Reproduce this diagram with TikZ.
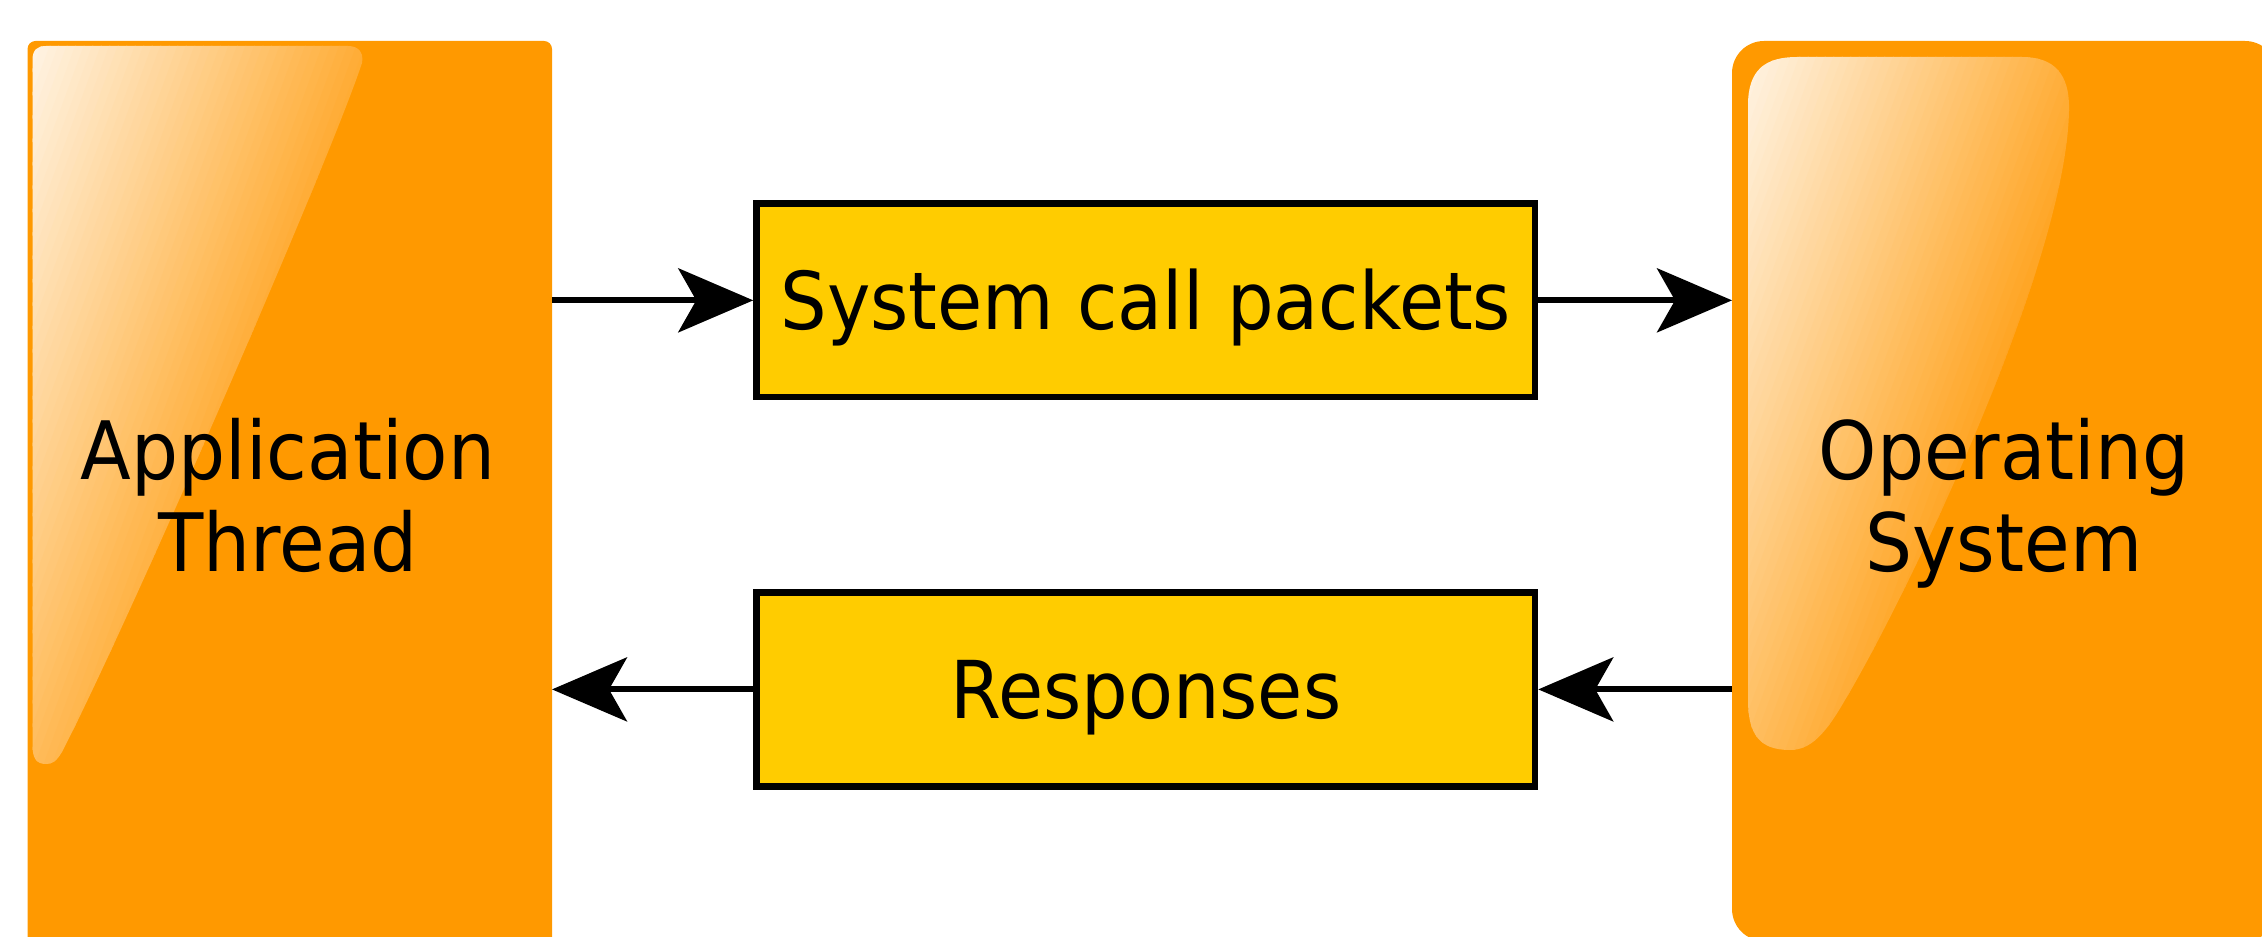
\documentclass[tikz,border=0pt]{standalone}
\usepackage{fontspec}
\setmainfont{DejaVu Sans}[FakeStretch=0.92]
\usetikzlibrary{arrows.meta}
\definecolor{blockorange}{HTML}{FF9900}
\definecolor{pktyellow}{HTML}{FFCC00}
\definecolor{glosslight}{HTML}{FFF3E2}
\definecolor{glossdark}{HTML}{FF9D10}

\begin{document}
\begin{tikzpicture}[x=0.5pt, y=-0.5pt,
  block/.style={fill=blockorange, draw=none, inner sep=0pt, outer sep=0pt},
  pkt/.style={fill=pktyellow, draw=black, line width=3.25pt,
    minimum width=389.25pt, minimum height=96.7pt, inner sep=0pt,
    text height=29.1pt, text depth=0pt,
    font=\fontsize{39.9}{46}\selectfont},
  lbl/.style={align=center, inner sep=0pt, font=\fontsize{40.3}{46}\selectfont},
  flow/.style={line width=3pt, -{Stealth[length=37.5pt, width=32pt, inset=9pt]}},
]
\useasboundingbox (0,0) rectangle (2262,936);
\clip (0,0) rectangle (2262,936);

% the two large blocks
\node[block, rounded corners=4pt, minimum width=262.25pt, minimum height=469.5pt]
  (app) at (289.75,510.5) {};
\node[block, rounded corners=16pt, minimum width=272.5pt, minimum height=450pt]
  (os) at (2004.5,491) {};

% glossy highlight: a tilted gradient built from thin overlapping bands
\newcommand{\glossbands}[2]{%
  \begin{scope}[rotate around={-20:(#1,#2)}]
    \foreach \i in {0,...,47} {
      \pgfmathsetmacro{\mix}{\i*100/47}
      \fill[glossdark!\mix!glosslight] (#1+\i*8,#2-300) rectangle ++(9,1400);
    }
  \end{scope}}

% highlight on the application block
\begin{scope}
  \clip (362,63) .. controls (330,160) and (130,620) .. (62,752)
        .. controls (56,762) and (52,764) .. (46,764)
        .. controls (36,764) and (32.5,758) .. (32.5,745)
        -- (32.5,60) .. controls (32.5,50) and (37,46) .. (46,46)
        -- (348,46) .. controls (358,46) and (364,52) .. (362,63) -- cycle;
  \glossbands{32.5}{46}
\end{scope}

% highlight on the operating system block
\begin{scope}
  \clip (2069,107) .. controls (2069,260) and (1905,600) .. (1845,700)
        .. controls (1825,735) and (1810,750) .. (1790,750)
        .. controls (1760,750) and (1748,735) .. (1748,700)
        -- (1748,105) .. controls (1748,70) and (1765,57) .. (1797,57)
        -- (2022,57) .. controls (2055,57) and (2069,75) .. (2069,107) -- cycle;
  \glossbands{1748}{57}
\end{scope}

% block labels (base anchor sits on the last line)
\node[lbl, anchor=base] (applbl) at (288,571) {Application\\Thread};
\node[lbl, anchor=base] (oslbl) at (2004,571) {Operating\\System};

% message boxes
\node[pkt] (call) at (1145.75,300.35) {System call packets};
\node[pkt, minimum height=97.1pt] (resp) at (1145.75,689.4) {Responses};

% message flow
\draw[flow] (app.east |- call.west) -- (call.west);
\draw[flow] (call.east) -- (os.west |- call.east);
\draw[flow] (os.west |- resp.east) -- (resp.east);
\draw[flow] (resp.west) -- (app.east |- resp.west);
\end{tikzpicture}
\end{document}
